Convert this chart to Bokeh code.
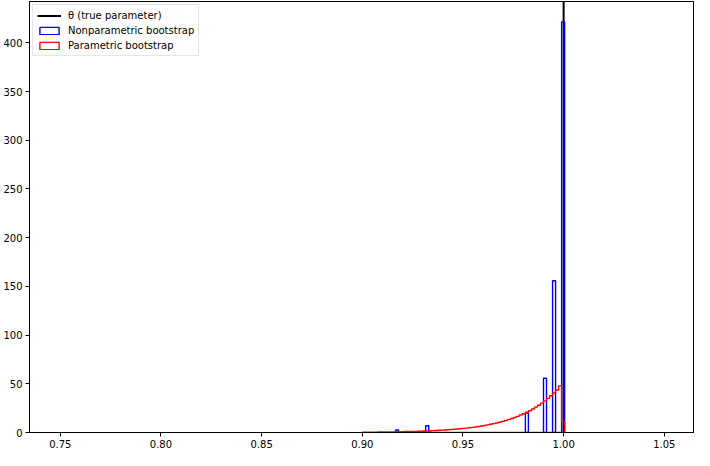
import math
from bokeh.plotting import figure
from bokeh.models import Range1d, FixedTicker, PrintfTickFormatter
from bokeh.embed import file_html
from bokeh.resources import INLINE

# ---- data ----
theta = 1.0
bin_width = 0.0015

# Nonparametric bootstrap: bin left edges and densities of the non-empty bins
np_left = [0.9165, 0.9315, 0.9810, 0.9900, 0.9945, 0.9990]
np_density = [2.6, 7.0, 20.0, 55.7, 155.8, 421.3]

# Parametric bootstrap: densities of consecutive bins starting at red_start
red_start = 0.90
red_density = [
    0.31, 0.33, 0.36, 0.39, 0.42, 0.46, 0.50, 0.54, 0.58, 0.63,
    0.69, 0.74, 0.81, 0.87, 0.95, 1.02, 1.11, 1.20, 1.30, 1.41,
    1.52, 1.65, 1.78, 1.93, 2.09, 2.26, 2.44, 2.64, 2.85, 3.08,
    3.3, 3.6, 3.9, 4.2, 4.5, 4.9, 5.3, 5.7, 6.2, 6.7,
    7.2, 7.8, 8.4, 9.1, 9.8, 10.5, 11.4, 12.3, 13.2, 14.3,
    15.4, 16.6, 17.9, 19.3, 20.8, 22.4, 24.1, 26.0, 28.0, 30.2,
    32.5, 35.0, 37.7, 40.6, 43.7, 47.9, 10.9,
]

x_ticks = [0.75, 0.80, 0.85, 0.90, 0.95, 1.00, 1.05]
y_ticks = [0, 50, 100, 150, 200, 250, 300, 350, 400]

FONT = "DejaVu Sans"

p = figure(width=694, height=450, output_backend="svg", toolbar_location=None,
           x_range=Range1d(0.7347, 1.065), y_range=Range1d(0, 442.4),
           min_border_left=26, min_border_right=0, min_border_top=1,
           min_border_bottom=17)
p.background_fill_color = "white"
p.border_fill_color = "white"
p.outline_line_color = "black"
p.outline_line_width = 1
p.xgrid.visible = False
p.ygrid.visible = False

# true parameter line
p.ray(x=[theta], y=[0], length=0, angle=math.pi / 2, line_color="black",
      line_width=2, legend_label="\u03b8 (true parameter)")

# nonparametric bootstrap histogram (step style outlines)
np_right = [l + bin_width for l in np_left]
p.quad(left=np_left, right=np_right, bottom=0, top=np_density,
       fill_alpha=0, line_color="blue", line_width=1.4,
       legend_label="Nonparametric bootstrap")

# parametric bootstrap histogram (step outline)
edges = [red_start + i * bin_width for i in range(len(red_density) + 1)]
xs = [edges[0]]
ys = [0]
for i, h in enumerate(red_density):
    xs += [edges[i], edges[i + 1]]
    ys += [h, h]
xs.append(edges[-1])
ys.append(0)
p.patch(xs, ys, fill_alpha=0, line_color="red", line_width=1.4,
        legend_label="Parametric bootstrap")

# axes
for ax in (p.xaxis[0], p.yaxis[0]):
    ax.axis_line_color = "black"
    ax.axis_line_width = 1
    ax.major_tick_line_color = "black"
    ax.major_tick_out = 4
    ax.major_tick_in = 0
    ax.minor_tick_line_color = None
    ax.major_label_text_font = FONT
    ax.major_label_text_font_size = "10px"
    ax.major_label_text_color = "black"
    ax.major_label_standoff = 3
p.xaxis[0].ticker = FixedTicker(ticks=x_ticks)
p.xaxis[0].formatter = PrintfTickFormatter(format="%.2f")
p.yaxis[0].ticker = FixedTicker(ticks=y_ticks)

# legend
lg = p.legend[0]
lg.location = "top_left"
lg.margin = 3
lg.padding = 4
lg.spacing = 3
lg.glyph_width = 24
lg.glyph_height = 9
lg.label_height = 12
lg.label_standoff = 7
lg.label_text_font = FONT
lg.label_text_font_size = "10px"
lg.label_text_color = "black"
lg.border_line_color = "#cccccc"
lg.background_fill_alpha = 0.8

with open("out.html", "w") as f:
    f.write(file_html(p, INLINE))
